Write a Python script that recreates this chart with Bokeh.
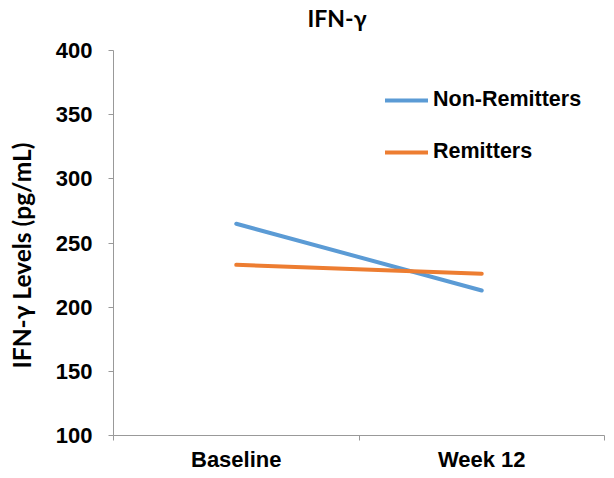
from bokeh.plotting import figure
from bokeh.models import Range1d, FixedTicker, Legend, LegendItem, Title
from bokeh.embed import file_html
from bokeh.resources import INLINE

categories = ["Baseline", "Week 12"]
non_remitters = [265, 213]
remitters = [233, 226]
y_ticks = [100, 150, 200, 250, 300, 350, 400]

BLUE = "#5B9BD5"
ORANGE = "#ED7D31"
AXIS = "#999999"

xs = [i + 0.5 for i in range(len(categories))]

p = figure(width=614, height=478, output_backend="svg", toolbar_location=None,
           x_range=Range1d(0, len(categories)), y_range=Range1d(100, 400),
           min_border_left=113, min_border_right=10, min_border_top=50, min_border_bottom=43)
p.outline_line_color = None
p.xgrid.visible = False
p.ygrid.visible = False

# spacer panel between frame and title
p.add_layout(Title(text=" ", text_font_size="1px", standoff=16), "above")
p.title = Title(text="IFN-γ", align="left", offset=194, standoff=0, text_font="Lato",
                text_font_style="bold", text_font_size="23px", text_color="black")

# spacer panel between y axis and its label
p.add_layout(Title(text=" ", text_font_size="1px", standoff=14), "left")
ytitle = Title(text="IFN-γ Levels (pg/mL)", align="left", offset=67, standoff=0,
               text_font="Lato", text_font_style="bold", text_font_size="24.5px",
               text_color="black")
p.add_layout(ytitle, "left")

r1 = p.line(xs, non_remitters, line_color=BLUE, line_width=4, line_cap="round")
r2 = p.line(xs, remitters, line_color=ORANGE, line_width=4, line_cap="round")

legend = Legend(items=[LegendItem(label="Non-Remitters", renderers=[r1]),
                       LegendItem(label="Remitters", renderers=[r2])],
                location=(272, 271), padding=0, margin=0, spacing=27,
                glyph_width=43, glyph_height=24, label_height=24, label_standoff=5,
                border_line_color=None, background_fill_alpha=0,
                label_text_font="Liberation Sans", label_text_font_style="bold",
                label_text_font_size="21.5px", label_text_color="black")
p.add_layout(legend)

xa = p.xaxis[0]
xa.ticker = FixedTicker(ticks=xs, minor_ticks=list(range(len(categories) + 1)))
xa.major_label_overrides = {x: c for x, c in zip(xs, categories)}
xa.major_tick_in = 0
xa.major_tick_out = 0
xa.minor_tick_in = 0
xa.minor_tick_out = 5
xa.minor_tick_line_color = AXIS
xa.axis_line_color = AXIS
xa.major_label_standoff = 6
xa.major_label_text_font = "Liberation Sans"
xa.major_label_text_font_style = "bold"
xa.major_label_text_font_size = "22px"
xa.major_label_text_color = "black"

ya = p.yaxis[0]
ya.ticker = FixedTicker(ticks=y_ticks)
ya.minor_tick_line_color = None
ya.major_tick_in = 0
ya.major_tick_out = 5
ya.major_tick_line_color = AXIS
ya.axis_line_color = AXIS
ya.major_label_standoff = 16
ya.major_label_text_font = "Liberation Sans"
ya.major_label_text_font_style = "bold"
ya.major_label_text_font_size = "22px"
ya.major_label_text_color = "black"

open("out.html", "w").write(file_html(p, INLINE))
